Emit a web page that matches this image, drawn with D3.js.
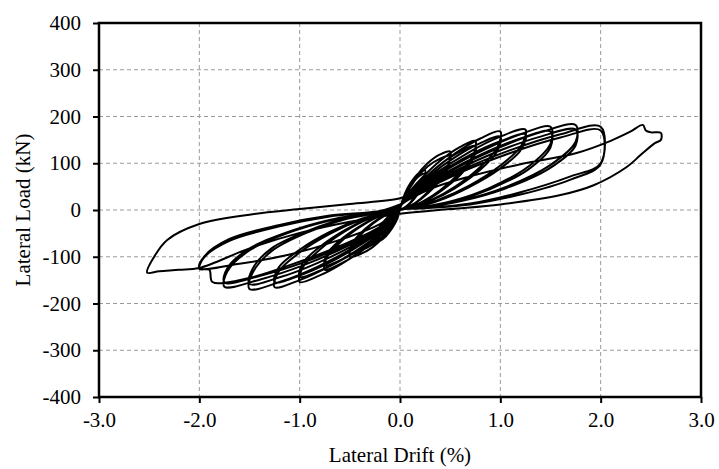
<!DOCTYPE html>
<html>
<head>
<meta charset="utf-8">
<script src="https://cdn.jsdelivr.net/npm/d3@7"></script>
<style>
  body { margin: 0; background: #fff; }
  svg text { font-family: "Liberation Serif", "Times New Roman", serif; fill: #000; }
</style>
</head>
<body>
<svg id="chart"></svg>
<script>
// axis ticks
let xTicks = [-3, -2, -1, 0, 1, 2, 3];
let yTicks = [-400, -300, -200, -100, 0, 100, 200, 300, 400];

// hysteresis cycles, [drift %, load kN]
let c025a = [[0,0],[0.025,21],[0.075,47],[0.14,68],[0.2,81],[0.25,85],[0.24,68],[0.2,47],[0.14,26],[0.075,10],[0.025,3],[0,0],[-0.025,-18],[-0.075,-38],[-0.14,-56],[-0.2,-66],[-0.25,-70],[-0.24,-56],[-0.2,-38],[-0.14,-21],[-0.075,-8],[-0.025,-2],[0,3]];
let c025b = [[0,3],[0.025,19],[0.075,43],[0.14,62],[0.2,74],[0.25,78],[0.24,62],[0.2,43],[0.14,23],[0.075,9],[0.025,2],[0,0],[-0.025,-16],[-0.075,-35],[-0.14,-51],[-0.2,-61],[-0.25,-64],[-0.24,-51],[-0.2,-35],[-0.14,-19],[-0.075,-8],[-0.025,-2],[0,4]];
let c050a = [[0,4],[0.05,31],[0.15,69],[0.275,100],[0.4,119],[0.5,125],[0.485,100],[0.4,69],[0.275,38],[0.15,15],[0.05,4],[0,0],[-0.05,-25],[-0.15,-55],[-0.275,-80],[-0.4,-95],[-0.5,-100],[-0.485,-80],[-0.4,-55],[-0.275,-30],[-0.15,-12],[-0.05,-3],[0,4]];
let c050b = [[0,4],[0.05,29],[0.15,64],[0.275,93],[0.4,110],[0.5,116],[0.485,93],[0.4,64],[0.275,35],[0.15,14],[0.05,3],[0,0],[-0.05,-23],[-0.15,-51],[-0.275,-74],[-0.4,-87],[-0.5,-92],[-0.485,-74],[-0.4,-51],[-0.275,-28],[-0.15,-11],[-0.05,-3],[0,5]];
let c075a = [[0,5],[0.075,33],[0.225,70],[0.41,107],[0.6,135],[0.75,148],[0.73,118],[0.6,81],[0.41,44],[0.225,18],[0.075,4],[0,0],[-0.075,-28],[-0.225,-60],[-0.41,-92],[-0.6,-116],[-0.75,-128],[-0.73,-102],[-0.6,-70],[-0.41,-38],[-0.225,-15],[-0.075,-4],[0,5]];
let c075b = [[0,5],[0.075,30],[0.225,64],[0.41,99],[0.6,125],[0.75,137],[0.73,110],[0.6,75],[0.41,41],[0.225,16],[0.075,4],[0,0],[-0.075,-26],[-0.225,-56],[-0.41,-86],[-0.6,-108],[-0.75,-119],[-0.73,-95],[-0.6,-65],[-0.41,-36],[-0.225,-14],[-0.075,-4],[0,6]];
let c100a = [[0,6],[0.1,37],[0.3,79],[0.55,121],[0.8,153],[1.0,168],[0.97,134],[0.8,92],[0.55,50],[0.3,20],[0.1,5],[0,0],[-0.1,-34],[-0.3,-72],[-0.55,-111],[-0.8,-140],[-1.0,-154],[-0.97,-123],[-0.8,-85],[-0.55,-46],[-0.3,-18],[-0.1,-5],[0,6]];
let c100b = [[0,6],[0.1,35],[0.3,74],[0.55,113],[0.8,143],[1.0,157],[0.97,126],[0.8,86],[0.55,47],[0.3,19],[0.1,5],[0,0],[-0.1,-31],[-0.3,-67],[-0.55,-103],[-0.8,-130],[-1.0,-143],[-0.97,-114],[-0.8,-79],[-0.55,-43],[-0.3,-17],[-0.1,-4],[0,7]];
let c125a = [[0,7],[0.125,38],[0.375,81],[0.69,124],[1.0,157],[1.25,172],[1.21,138],[1.0,95],[0.69,52],[0.375,21],[0.125,5],[0,0],[-0.125,-36],[-0.375,-78],[-0.69,-119],[-1.0,-150],[-1.25,-165],[-1.21,-132],[-1.0,-91],[-0.69,-50],[-0.375,-20],[-0.125,-5],[0,7]];
let c125b = [[0,7],[0.125,36],[0.375,76],[0.69,117],[1.0,147],[1.25,162],[1.21,130],[1.0,89],[0.69,49],[0.375,19],[0.125,5],[0,0],[-0.125,-34],[-0.375,-72],[-0.69,-111],[-1.0,-140],[-1.25,-154],[-1.21,-123],[-1.0,-85],[-0.69,-46],[-0.375,-18],[-0.125,-5],[0,8]];
let c150a = [[0,8],[0.15,39],[0.45,84],[0.83,128],[1.2,162],[1.5,178],[1.5,142],[1.28,93],[0.9,48],[0.53,20],[0.15,4],[0,0],[-0.15,-37],[-0.45,-79],[-0.83,-122],[-1.2,-154],[-1.5,-169],[-1.47,-135],[-1.28,-88],[-0.9,-46],[-0.53,-19],[-0.15,-3],[0,8]];
let c150b = [[0,8],[0.15,37],[0.45,79],[0.83,121],[1.2,153],[1.5,168],[1.5,134],[1.28,87],[0.9,45],[0.53,18],[0.15,3],[0,0],[-0.15,-35],[-0.45,-74],[-0.83,-114],[-1.2,-144],[-1.5,-158],[-1.47,-126],[-1.28,-82],[-0.9,-43],[-0.53,-17],[-0.15,-3],[0,9]];
let c175a = [[0,9],[0.175,40],[0.525,86],[0.96,131],[1.4,166],[1.75,182],[1.75,146],[1.49,95],[1.05,49],[0.61,20],[0.175,4],[0,0],[-0.175,-36],[-0.525,-77],[-0.96,-118],[-1.4,-149],[-1.75,-164],[-1.72,-131],[-1.49,-85],[-1.05,-44],[-0.61,-18],[-0.175,-3],[0,9]];
let c175b = [[0,9],[0.175,38],[0.525,81],[0.96,124],[1.4,157],[1.75,172],[1.75,138],[1.49,89],[1.05,46],[0.61,19],[0.175,3],[0,0],[-0.175,-34],[-0.525,-73],[-0.96,-112],[-1.4,-141],[-1.75,-155],[-1.72,-124],[-1.49,-81],[-1.05,-42],[-0.61,-17],[-0.175,-3],[0,10]];
let c200a = [[0,10],[0.2,39],[0.6,84],[1.1,128],[1.6,162],[2.0,178],[2.0,100],[1.7,72],[1.2,38],[0.7,14],[0.2,3],[0,0],[-0.2,-36],[-0.6,-77],[-1.1,-118],[-1.5,-145],[-1.87,-154],[-1.9,-128],[-2.0,-126],[-1.95,-101],[-1.7,-66],[-1.2,-35],[-0.7,-14],[-0.2,-2],[0,10]];
let c200b = [[0,10],[0.2,37],[0.6,80],[1.1,122],[1.6,155],[2.0,170],[2.0,98],[1.7,65],[1.2,33],[0.7,12],[0.2,3],[0,0],[-0.2,-30],[-0.6,-64],[-1.1,-95],[-1.6,-115],[-2.0,-124],[-1.95,-99],[-1.7,-62],[-1.2,-32],[-0.7,-12],[-0.2,-2],[0,12]];
let cLast = [[0,12],[0.3,45],[0.7,72],[1.2,98],[1.76,122],[2.1,148],[2.3,168],[2.42,182],[2.45,170],[2.5,166],[2.6,165],[2.6,150],[2.54,143],[2.4,118],[2.26,92],[1.93,53],[1.6,32],[1.0,12],[0.5,2],[0,-8],[-0.5,-25],[-1.0,-49],[-1.5,-82],[-2.0,-124],[-2.2,-128],[-2.4,-131],[-2.52,-134],[-2.45,-100],[-2.32,-64],[-2.0,-30],[-1.5,-10],[-1.0,2],[-0.5,13],[0,25],[0.1,35]];

let cycles = [c025a, c025b, c050a, c050b, c075a, c075b, c100a, c100b,
              c125a, c125b, c150a, c150b, c175a, c175b, c200a, c200b, cLast];

let width = 719;
let height = 469;
let plotLeft = 99, plotRight = 701, plotTop = 23, plotBottom = 397;

let svg = d3.select("#chart")
    .attr("width", width)
    .attr("height", height);

let x = d3.scaleLinear().domain([-3, 3]).range([plotLeft, plotRight]);
let y = d3.scaleLinear().domain([-400, 400]).range([plotBottom, plotTop]);

// dashed grid
svg.append("g")
    .selectAll("line")
    .data(xTicks.slice(1, -1))
    .enter().append("line")
    .attr("x1", d => x(d)).attr("x2", d => x(d))
    .attr("y1", plotTop).attr("y2", plotBottom)
    .attr("stroke", "#9a9a9a").attr("stroke-width", 1)
    .attr("stroke-dasharray", "4,3");

svg.append("g")
    .selectAll("line")
    .data(yTicks.slice(1, -1))
    .enter().append("line")
    .attr("y1", d => y(d)).attr("y2", d => y(d))
    .attr("x1", plotLeft).attr("x2", plotRight)
    .attr("stroke", "#9a9a9a").attr("stroke-width", 1)
    .attr("stroke-dasharray", "4,3");

// the loops
let line = d3.line()
    .x(d => x(d[0]))
    .y(d => y(d[1]))
    .curve(d3.curveCatmullRom.alpha(0.5));

svg.append("path")
    .datum(cycles.flat())
    .attr("d", line)
    .attr("fill", "none")
    .attr("stroke", "#000")
    .attr("stroke-width", 2)
    .attr("stroke-linejoin", "round");

// axes
let xAxis = svg.append("g")
    .attr("transform", "translate(0," + plotBottom + ")")
    .call(d3.axisBottom(x).tickValues(xTicks).tickFormat(d3.format(".1f")).tickSizeOuter(0).tickSize(6).tickPadding(9));

let yAxis = svg.append("g")
    .attr("transform", "translate(" + plotLeft + ",0)")
    .call(d3.axisLeft(y).tickValues(yTicks).tickFormat(d => d).tickSizeOuter(0).tickSize(6).tickPadding(12));

[xAxis, yAxis].forEach(function(g) {
    g.select(".domain").remove();
    g.selectAll(".tick line").attr("stroke", "#000").attr("stroke-width", 2);
    g.selectAll(".tick text")
        .attr("font-size", 21)
        .style("font-family", '"Liberation Serif", serif')
        .text(function() { return this.textContent.replace("\u2212", "-"); });
});

// frame
svg.append("rect")
    .attr("x", plotLeft).attr("y", plotTop)
    .attr("width", plotRight - plotLeft).attr("height", plotBottom - plotTop)
    .attr("fill", "none")
    .attr("stroke", "#000")
    .attr("stroke-width", 2.5);

// titles
svg.append("text")
    .attr("x", 400).attr("y", 462)
    .attr("text-anchor", "middle")
    .attr("font-size", 21)
    .text("Lateral Drift (%)");

svg.append("text")
    .attr("transform", "translate(30,210) rotate(-90)")
    .attr("text-anchor", "middle")
    .attr("font-size", 21)
    .text("Lateral Load (kN)");
</script>
</body>
</html>
